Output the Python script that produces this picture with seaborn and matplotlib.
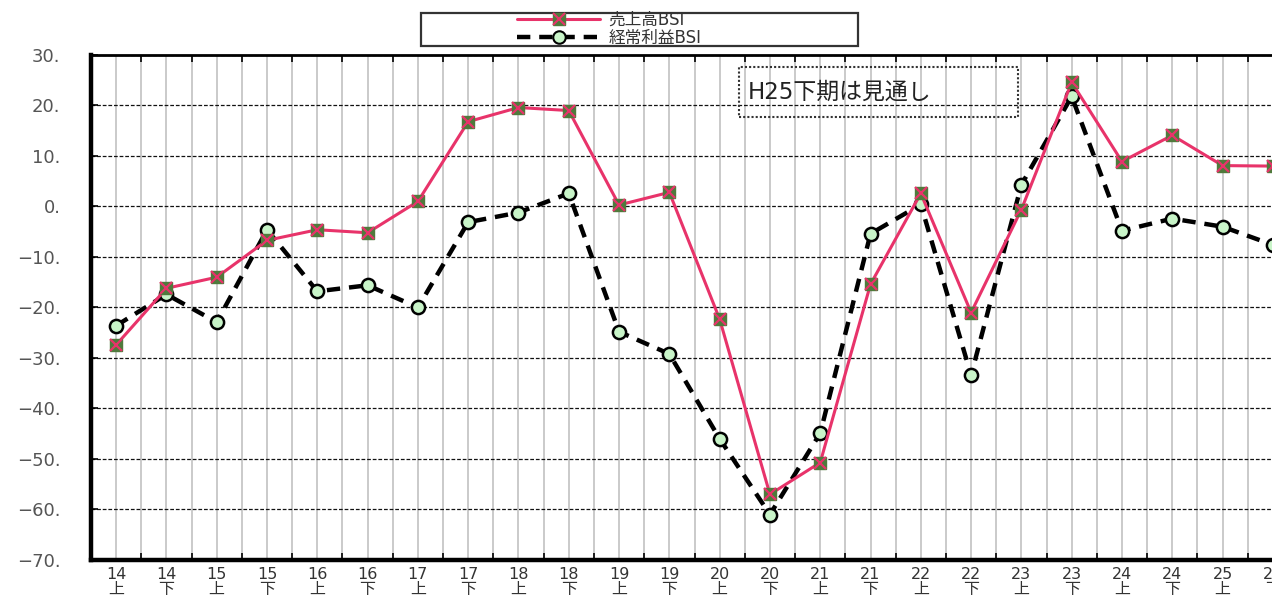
import numpy as np
import pandas as pd
import matplotlib
matplotlib.use("Agg")
import matplotlib.pyplot as plt
import seaborn as sns
from matplotlib.lines import Line2D
from matplotlib.patches import Rectangle
from matplotlib.legend_handler import HandlerTuple

# Half-year periods (Heisei year, 上 = first half, 下 = second half)
years = ["14", "14", "15", "15", "16", "16", "17", "17", "18", "18", "19", "19",
         "20", "20", "21", "21", "22", "22", "23", "23", "24", "24", "25", "25"]
halves = ["上", "下"] * 12

# BSI values
sales_bsi = [-27.4, -16.2, -14.0, -6.7, -4.6, -5.2, 1.0, 16.8, 19.6, 19.0, 0.3, 2.8,
             -22.3, -57.0, -50.7, -15.4, 2.6, -21.0, -0.6, 24.6, 8.9, 14.1, 8.1, 8.0]
profit_bsi = [-23.6, -17.4, -22.9, -4.6, -16.8, -15.6, -20.0, -3.1, -1.2, 2.6, -24.8, -29.2,
              -46.0, -61.0, -44.9, -5.4, 0.4, -33.4, 4.3, 21.8, -4.8, -2.4, -4.0, -7.6]

y_ticks = list(range(-70, 31, 10))
sales_label = "売上高BSI"
profit_label = "経常利益BSI"
note_text = "H25下期は見通し"

RED = "#E8336A"
GREEN = "#4F7A3C"
LIGHT_GREEN = "#C8F4C8"

sns.set_theme(style="white")
plt.rcParams["font.family"] = ["DejaVu Sans", "Noto Sans CJK JP"]

W, H = 1272, 602
fig = plt.figure(figsize=(W / 100, H / 100), dpi=100)
fig.patch.set_facecolor("white")
ax = fig.add_axes([91 / W, 42 / H, 1207 / W, 505 / H])

df = pd.DataFrame({
    "pos": np.arange(len(years)),
    "sales": sales_bsi,
    "profit": profit_bsi,
})

# 経常利益 BSI: heavy dashed black line with pale green circles
sns.lineplot(data=df, x="pos", y="profit", ax=ax, color="black", lw=3.2,
             linestyle=(0, (3, 2)), marker="o", markersize=9.5,
             markerfacecolor=LIGHT_GREEN, mec="black", mew=1.8, zorder=3)

# 売上高 BSI: red line with green squares crossed in red
sns.lineplot(data=df, x="pos", y="sales", ax=ax, color=RED, lw=2.2,
             marker="s", markersize=8.5, markerfacecolor=GREEN, mec=GREEN,
             mew=1.0, zorder=4)
sns.lineplot(data=df, x="pos", y="sales", ax=ax, color=RED, lw=0,
             linestyle="none", marker="x", markersize=8.5, mec=RED, mew=1.6,
             zorder=5)

ax.set_xlim(-0.5, len(years) - 0.5)
ax.set_ylim(-70, 30)
ax.set_xlabel("")
ax.set_ylabel("")

ax.set_xticks(df["pos"])
ax.set_xticklabels([f"{y}\n{h}" for y, h in zip(years, halves)],
                   fontsize=11.5, color="#333333", linespacing=1.0)
ax.set_xticks(np.arange(-0.5, len(years), 1), minor=True)
ax.set_yticks(y_ticks)
ax.set_yticklabels([f"{v}.".replace("-", "\u2212") for v in y_ticks],
                   fontsize=13, color="#555555")

ax.tick_params(axis="x", which="major", length=0, pad=5)
ax.tick_params(axis="x", which="minor", direction="in", length=5, width=1.2,
               color="black", top=True, bottom=True)
ax.tick_params(axis="y", which="major", direction="in", length=5, width=1.2,
               color="black", left=True, pad=22)

ax.grid(axis="x", which="both", color="#c6c6c6", lw=1.3)
ax.grid(axis="y", which="major", color="#111111", lw=0.9, ls=(0, (3, 1.5)))
ax.set_axisbelow(True)

for side, lw in (("left", 3.2), ("bottom", 3.2), ("top", 2.0)):
    ax.spines[side].set_visible(True)
    ax.spines[side].set_color("black")
    ax.spines[side].set_linewidth(lw)
ax.spines["right"].set_visible(False)

# Legend frame and entries
fig.add_artist(Rectangle((421 / W, (H - 46) / H), 437 / W, 33 / H,
                         transform=fig.transFigure, fill=False,
                         ec="#333333", lw=1.6))
sales_handle = (Line2D([], [], color=RED, lw=2.2, marker="s", markersize=8,
                       mfc=GREEN, mec=GREEN),
                Line2D([], [], color=RED, lw=0, marker="x", markersize=8,
                       mec=RED, mew=1.5))
profit_handle = Line2D([], [], color="black", lw=3.2, ls=(0, (3, 2)),
                       marker="o", markersize=9, mfc=LIGHT_GREEN, mec="black",
                       mew=1.5)
fig.legend([sales_handle, profit_handle], [sales_label, profit_label],
           handler_map={tuple: HandlerTuple(ndivide=1)},
           loc="center left", bbox_to_anchor=(517 / W, (H - 29) / H),
           frameon=False, fontsize=12, labelspacing=0.0, handlelength=5.0,
           handleheight=0.6, handletextpad=0.5, borderpad=0, borderaxespad=0,
           labelcolor="#333333")

# Note box
fig.add_artist(Rectangle((739 / W, (H - 117) / H), 279 / W, 50 / H,
                         transform=fig.transFigure, fill=False,
                         ec="#333333", lw=1.5, ls=(0, (1, 1))))
fig.text(748 / W, (H - 92) / H, note_text, fontsize=16.5, color="#222222",
         ha="left", va="center")

fig.savefig("out.png", dpi=100)
